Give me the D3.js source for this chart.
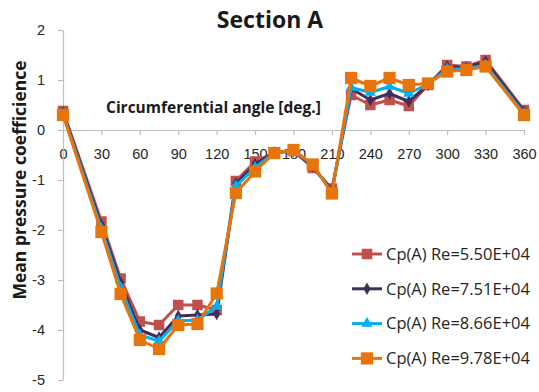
<!DOCTYPE html>
<html>
<head>
<meta charset="utf-8">
<script src="https://cdn.jsdelivr.net/npm/d3@7"></script>
<style>
  html, body { margin: 0; padding: 0; background: #fff; }
  svg { display: block; font-family: "Open Sans", Lato, sans-serif; }
</style>
</head>
<body>
<svg id="chart" width="539" height="392"></svg>
<script>
// Circumferential angles (deg.)
const angles = [0, 30, 45, 60, 75, 90, 105, 120, 135, 150, 165, 180, 195, 210, 225, 240, 255, 270, 285, 300, 315, 330, 360];

// Mean pressure coefficient per Reynolds number
const cpRe550 = [0.38, -1.83, -2.97, -3.83, -3.90, -3.50, -3.50, -3.60, -1.02, -0.63, -0.45, -0.42, -0.76, -1.17, 0.70, 0.50, 0.60, 0.48, 0.90, 1.30, 1.27, 1.40, 0.40];
const cpRe751 = [0.35, -1.90, -3.05, -4.00, -4.15, -3.72, -3.70, -3.68, -1.07, -0.68, -0.45, -0.42, -0.72, -1.22, 0.83, 0.60, 0.73, 0.57, 0.90, 1.27, 1.25, 1.37, 0.37];
const cpRe866 = [0.32, -1.97, -3.15, -4.10, -4.22, -3.82, -3.80, -3.53, -1.12, -0.75, -0.46, -0.41, -0.70, -1.25, 0.85, 0.75, 0.87, 0.73, 0.92, 1.22, 1.22, 1.30, 0.33];
const cpRe978 = [0.30, -2.04, -3.28, -4.20, -4.38, -3.90, -3.88, -3.27, -1.26, -0.83, -0.46, -0.40, -0.69, -1.27, 1.04, 0.88, 1.04, 0.90, 0.93, 1.17, 1.20, 1.27, 0.30];

const seriesNames = ["Cp(A) Re=5.50E+04", "Cp(A) Re=7.51E+04", "Cp(A) Re=8.66E+04", "Cp(A) Re=9.78E+04"];
const xTicks = [0, 30, 60, 90, 120, 150, 180, 210, 240, 270, 300, 330, 360];
const yTicks = [-5, -4, -3, -2, -1, 0, 1, 2];

const styles = [
  { color: "#C0504D", symbol: d3.symbolSquare, size: 110 },
  { color: "#3F2F5E", symbol: d3.symbolDiamond, size: 45 },
  { color: "#00B0F0", symbol: d3.symbolTriangle, size: 55 },
  { color: "#E8740C", symbol: d3.symbolSquare, size: 150 }
];

const series = [cpRe550, cpRe751, cpRe866, cpRe978].map((vals, i) => ({
  name: seriesNames[i],
  style: styles[i],
  points: angles.map((a, j) => ({ a, v: vals[j] }))
}));

const svg = d3.select("#chart");
const x = d3.scaleLinear().domain([0, 360]).range([63, 524]);
const y = d3.scaleLinear().domain([-5, 2]).range([380, 30]);
const axisColor = "#bfbfbf";

// Axes
const gx = svg.append("g")
  .attr("transform", `translate(0,${y(0)})`)
  .call(d3.axisBottom(x).tickValues(xTicks).tickFormat(d3.format("d"))
    .tickSize(5).tickSizeOuter(0).tickPadding(14));
const gy = svg.append("g")
  .attr("transform", `translate(${x(0)},0)`)
  .call(d3.axisLeft(y).tickValues(yTicks).tickFormat(d3.format("d"))
    .tickSize(5).tickSizeOuter(0).tickPadding(13));
[gx, gy].forEach(g => {
  g.select(".domain").attr("stroke", axisColor).attr("stroke-width", 1.2);
  g.selectAll(".tick line").attr("stroke", axisColor).attr("stroke-width", 1.2);
  g.selectAll(".tick text").attr("fill", "#262626").attr("font-size", 14.5).attr("font-family", null);
});
gy.selectAll(".tick text").text(d => d < 0 ? "-" + Math.abs(d) : d);

// Lines and markers
const line = d3.line().x(d => x(d.a)).y(d => y(d.v));
series.forEach(s => {
  const g = svg.append("g");
  g.append("path")
    .datum(s.points)
    .attr("d", line)
    .attr("fill", "none")
    .attr("stroke", s.style.color)
    .attr("stroke-width", 3)
    .attr("stroke-linejoin", "round");
  g.selectAll("path.pt")
    .data(s.points)
    .join("path")
    .attr("class", "pt")
    .attr("transform", d => `translate(${x(d.a)},${y(d.v)})`)
    .attr("d", d3.symbol().type(s.style.symbol).size(s.style.size))
    .attr("fill", s.style.color);
});

// Titles
svg.append("text")
  .attr("x", 270).attr("y", 28)
  .attr("text-anchor", "middle")
  .attr("font-size", 23).attr("font-weight", "bold").attr("fill", "#1a1a1a")
  .text("Section A");

svg.append("text")
  .attr("x", 106).attr("y", 113)
  .attr("font-size", 15.5).attr("font-weight", "bold").attr("fill", "#1a1a1a")
  .text("Circumferential angle [deg.]");

svg.append("text")
  .attr("transform", "translate(26,180) rotate(-90)")
  .attr("text-anchor", "middle")
  .attr("font-size", 17.5).attr("font-weight", "bold").attr("fill", "#1a1a1a")
  .text("Mean pressure coefficience");

// Legend
const legend = svg.append("g");
series.forEach((s, i) => {
  const ly = 254 + i * 34.8;
  const item = legend.append("g").attr("transform", `translate(0,${ly})`);
  item.append("line")
    .attr("x1", 352).attr("x2", 382)
    .attr("stroke", s.style.color).attr("stroke-width", 3);
  item.append("path")
    .attr("transform", "translate(367,0)")
    .attr("d", d3.symbol().type(s.style.symbol).size(s.style.size))
    .attr("fill", s.style.color);
  item.append("text")
    .attr("x", 386).attr("y", 0).attr("dy", "0.35em")
    .attr("font-size", 16.5).attr("fill", "#262626")
    .text(s.name);
});
</script>
</body>
</html>
